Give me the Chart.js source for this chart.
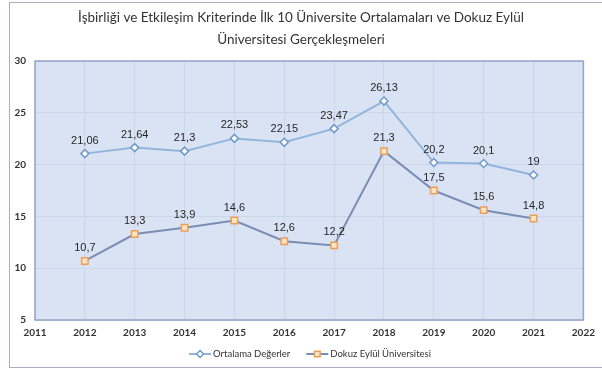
<!DOCTYPE html>
<html>
<head>
<meta charset="utf-8">
<script src="https://cdn.jsdelivr.net/npm/chart.js@4/dist/chart.umd.min.js"></script>
<style>
  html, body { margin: 0; padding: 0; background: #fff; }
  #wrap { position: relative; width: 602px; height: 370px; }
  #frame { position: absolute; left: 9px; top: 2px; width: 600px; height: 364px;
           border: 1px solid #b3a9c4; border-right: none; pointer-events: none; }
</style>
</head>
<body>
<div id="wrap">
  <canvas id="chart" width="602" height="370"></canvas>
  <div id="frame"></div>
</div>
<script>
// chart data
const years = [2012, 2013, 2014, 2015, 2016, 2017, 2018, 2019, 2020, 2021];
const ortalama = [21.06, 21.64, 21.3, 22.53, 22.15, 23.47, 26.13, 20.2, 20.1, 19];
const dokuzEylul = [10.7, 13.3, 13.9, 14.6, 12.6, 12.2, 21.3, 17.5, 15.6, 14.8];
const seriesNames = ['Ortalama Değerler', 'Dokuz Eylül Üniversitesi'];
const titleLines = ['İşbirliği ve Etkileşim Kriterinde İlk 10 Üniversite Ortalamaları ve Dokuz Eylül', 'Üniversitesi Gerçekleşmeleri'];

const toComma = v => String(v).replace('.', ',');

// plot area background + border
const plotBg = {
  id: 'plotBg',
  beforeDraw(chart) {
    const { ctx, chartArea: a } = chart;
    ctx.save();
    ctx.fillStyle = '#d9e3f3';
    ctx.fillRect(a.left, a.top, a.right - a.left, a.bottom - a.top);
    ctx.restore();
  },
  beforeDatasetsDraw(chart) {
    const { ctx, chartArea: a } = chart;
    ctx.save();
    ctx.strokeStyle = '#93a7c6';
    ctx.lineWidth = 1.5;
    ctx.strokeRect(a.left, a.top, a.right - a.left, a.bottom - a.top);
    ctx.restore();
  }
};

// title centred on the whole picture
const pageTitle = {
  id: 'pageTitle',
  afterDraw(chart) {
    const ctx = chart.ctx;
    ctx.save();
    ctx.font = '13.5px Lato, "Open Sans", sans-serif';
    ctx.fillStyle = '#333';
    ctx.textAlign = 'center';
    ctx.textBaseline = 'middle';
    titleLines.forEach((t, i) => ctx.fillText(t, 301, 18 + i * 22));
    ctx.restore();
  }
};

// value labels above points
const valueLabels = {
  id: 'valueLabels',
  afterDatasetsDraw(chart) {
    const ctx = chart.ctx;
    ctx.save();
    ctx.font = '11px "Liberation Sans", Arial, sans-serif';
    ctx.fillStyle = '#262626';
    ctx.textAlign = 'center';
    ctx.textBaseline = 'middle';
    chart.data.datasets.forEach((ds, i) => {
      chart.getDatasetMeta(i).data.forEach((pt, j) => {
        ctx.fillText(toComma(ds.data[j].y), pt.x, pt.y - 13);
      });
    });
    ctx.restore();
  }
};

// legend drawn as line + marker like the original
const lineLegend = {
  id: 'lineLegend',
  afterDraw(chart) {
    const ctx = chart.ctx;
    const y = 354;
    ctx.save();
    ctx.font = '9.5px Lato, "Open Sans", sans-serif';
    ctx.textBaseline = 'middle';
    const items = chart.data.datasets;
    const lineW = 22, gap = 2, spacing = 16;
    const widths = items.map(ds => lineW + gap + ctx.measureText(ds.label).width);
    let x = 310 - (widths.reduce((s, w) => s + w, 0) + spacing) / 2;
    items.forEach((ds, i) => {
      ctx.strokeStyle = ds.borderColor;
      ctx.lineWidth = 2;
      ctx.beginPath();
      ctx.moveTo(x, y);
      ctx.lineTo(x + lineW, y);
      ctx.stroke();
      ctx.fillStyle = ds.pointBackgroundColor;
      ctx.strokeStyle = ds.pointBorderColor;
      ctx.lineWidth = 1.5;
      Chart.helpers.drawPoint(ctx, {
        pointStyle: ds.pointStyle, radius: ds.pointRadius - 0.5, borderWidth: 1.5
      }, x + lineW / 2, y);
      ctx.fillStyle = '#333';
      ctx.fillText(ds.label, x + lineW + gap, y);
      x += widths[i] + spacing;
    });
    ctx.restore();
  }
};

new Chart(document.getElementById('chart'), {
  type: 'line',
  data: {
    datasets: [
      {
        label: seriesNames[0],
        data: years.map((y, i) => ({ x: y, y: ortalama[i] })),
        borderColor: '#93b5dc',
        borderWidth: 2,
        pointStyle: 'rectRot',
        pointRadius: 4,
        pointBackgroundColor: '#ffffff',
        pointBorderColor: '#6f9bc8',
        pointBorderWidth: 1.5,
        tension: 0
      },
      {
        label: seriesNames[1],
        data: years.map((y, i) => ({ x: y, y: dokuzEylul[i] })),
        borderColor: '#7b8db4',
        borderWidth: 2,
        pointStyle: 'rect',
        pointRadius: 4.5,
        pointBackgroundColor: '#fde5c3',
        pointBorderColor: '#ec9f58',
        pointBorderWidth: 1.5,
        tension: 0
      }
    ]
  },
  options: {
    responsive: false,
    animation: false,
    layout: { padding: { left: 0, right: 15, top: 61, bottom: 0 } },
    plugins: {
      legend: { display: false },
      tooltip: { enabled: false },
      title: { display: false }
    },
    scales: {
      x: {
        type: 'linear',
        min: 2011,
        max: 2022,
        afterFit: s => { s.height = 50; },
        grid: { color: '#cbd6ea', drawTicks: false },
        border: { display: false },
        ticks: {
          stepSize: 1,
          padding: 7,
          color: '#333',
          font: { family: 'Lato, "Open Sans", sans-serif', size: 10, weight: 'bold' },
          callback: v => String(v)
        }
      },
      y: {
        min: 5,
        max: 30,
        afterFit: s => { s.width = 35; },
        grid: { color: '#cbd6ea', drawTicks: false },
        border: { display: false },
        ticks: {
          stepSize: 5,
          padding: 9,
          color: '#333',
          font: { family: 'Lato, "Open Sans", sans-serif', size: 10, weight: 'bold' }
        }
      }
    }
  },
  plugins: [plotBg, valueLabels, pageTitle, lineLegend]
});
</script>
</body>
</html>
